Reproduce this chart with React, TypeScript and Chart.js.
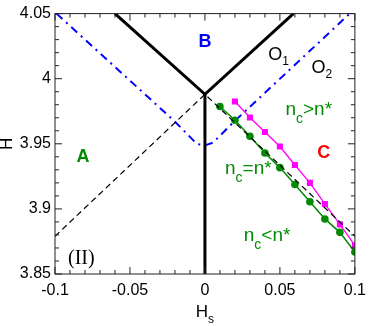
import React, { useEffect, useRef } from "react";
import { Chart, registerables } from "chart.js";

Chart.register(...registerables);

// ---- data ----
const xTickValues = [-0.1, -0.05, 0, 0.05, 0.1];
const yTickValues = [3.85, 3.9, 3.95, 4, 4.05];

const greenX = [0.01, 0.02, 0.03, 0.04, 0.05, 0.06, 0.07, 0.08, 0.09, 0.1];
const greenY = [3.9787, 3.9681, 3.9558, 3.9429, 3.9317, 3.9187, 3.9055, 3.8923, 3.882, 3.8669];

const magentaX = [0.02, 0.03, 0.04, 0.05, 0.06, 0.07, 0.08, 0.09, 0.1];
const magentaY = [3.9825, 3.9702, 3.9591, 3.9479, 3.9337, 3.92, 3.9038, 3.8881, 3.8719];

const thickVX = [-0.06, 0, 0.059];
const thickVY = [4.05, 3.988, 4.05];

const stemX = [0, 0];
const stemY = [3.988, 3.85];

const dashedX = [-0.1, 0, 0.1];
const dashedY = [3.879, 3.988, 3.879];

const blueX = [-0.099, -0.0196, -0.0054, 0, 0.0055, 0.0194, 0.0966];
const blueY = [4.05, 3.9666, 3.9499, 3.9487, 3.951, 3.967, 4.05];

const minorStep = 0.01;

// ---- text labels (data coordinates) ----
type Part = { t: string; sub?: boolean };
type Label = { x: number; y: number; parts: Part[]; kind: "region" | "o" | "n" | "roman"; color: string; align: "left" | "center" };

const GREEN = "rgb(0,139,0)";
const BLUE = "rgb(0,0,255)";
const RED = "rgb(255,0,0)";
const MAGENTA = "rgb(255,0,255)";

const labels: Label[] = [
  { x: 0.0, y: 4.024, parts: [{ t: "B" }], kind: "region", color: BLUE, align: "center" },
  { x: -0.0813, y: 3.936, parts: [{ t: "A" }], kind: "region", color: GREEN, align: "center" },
  { x: 0.0792, y: 3.939, parts: [{ t: "C" }], kind: "region", color: RED, align: "center" },
  { x: 0.0422, y: 4.014, parts: [{ t: "O" }, { t: "1", sub: true }], kind: "o", color: "#000", align: "left" },
  { x: 0.0711, y: 4.004, parts: [{ t: "O" }, { t: "2", sub: true }], kind: "o", color: "#000", align: "left" },
  { x: 0.0537, y: 3.972, parts: [{ t: "n" }, { t: "c", sub: true }, { t: ">n*" }], kind: "n", color: GREEN, align: "left" },
  { x: 0.0134, y: 3.9266, parts: [{ t: "n" }, { t: "c", sub: true }, { t: "=n*" }], kind: "n", color: GREEN, align: "left" },
  { x: 0.0259, y: 3.875, parts: [{ t: "n" }, { t: "c", sub: true }, { t: "<n*" }], kind: "n", color: GREEN, align: "left" },
  { x: -0.0913, y: 3.858, parts: [{ t: "(II)" }], kind: "roman", color: "#000", align: "left" },
];

const SANS = '"Liberation Sans", Arial, Helvetica, sans-serif';
const SERIF = '"Liberation Serif", "Times New Roman", serif';

const fontFor: Record<string, { main: string; sub: string; dy: number }> = {
  region: { main: `bold 18px ${SANS}`, sub: `bold 12px ${SANS}`, dy: 5 },
  o: { main: `18px ${SANS}`, sub: `12px ${SANS}`, dy: 5 },
  n: { main: `19px ${SANS}`, sub: `14px ${SANS}`, dy: 8 },
  roman: { main: `20px ${SERIF}`, sub: `14px ${SERIF}`, dy: 5 },
  axis: { main: `17px ${SANS}`, sub: `12px ${SANS}`, dy: 6 },
};

function drawRich(ctx: CanvasRenderingContext2D, x: number, y: number, parts: Part[], kind: string, align: "left" | "center") {
  const f = fontFor[kind];
  let total = 0;
  const widths = parts.map((p) => {
    ctx.font = p.sub ? f.sub : f.main;
    const w = ctx.measureText(p.t).width;
    total += w;
    return w;
  });
  let cx = align === "center" ? x - total / 2 : x;
  ctx.textAlign = "left";
  ctx.textBaseline = "alphabetic";
  parts.forEach((p, i) => {
    ctx.font = p.sub ? f.sub : f.main;
    ctx.fillText(p.t, cx, p.sub ? y + f.dy : y);
    cx += widths[i];
  });
}

const decorPlugin = {
  id: "decor",
  afterDraw(chart: any) {
    const { ctx, chartArea: a, scales } = chart;
    const xs = scales.x;
    const ys = scales.y;
    ctx.save();
    ctx.strokeStyle = "#222";
    ctx.lineWidth = 1;
    ctx.strokeRect(a.left, a.top, a.right - a.left, a.bottom - a.top);
    ctx.beginPath();
    const nx = Math.round((xs.max - xs.min) / minorStep);
    for (let i = 0; i <= nx; i++) {
      const v = xs.min + i * minorStep;
      const px = xs.getPixelForValue(v);
      const len = i % 5 === 0 ? 7 : 4;
      ctx.moveTo(px, a.bottom);
      ctx.lineTo(px, a.bottom - len);
      ctx.moveTo(px, a.top);
      ctx.lineTo(px, a.top + len);
    }
    const ny = Math.round((ys.max - ys.min) / minorStep);
    for (let i = 0; i <= ny; i++) {
      const v = ys.min + i * minorStep;
      const py = ys.getPixelForValue(v);
      const len = i % 5 === 0 ? 7 : 4;
      ctx.moveTo(a.left, py);
      ctx.lineTo(a.left + len, py);
      ctx.moveTo(a.right, py);
      ctx.lineTo(a.right - len, py);
    }
    ctx.stroke();

    // labels
    labels.forEach((l) => {
      ctx.fillStyle = l.color;
      drawRich(ctx, xs.getPixelForValue(l.x), ys.getPixelForValue(l.y), l.parts, l.kind, l.align);
    });

    // axis titles
    ctx.fillStyle = "#000";
    const midX = (a.left + a.right) / 2;
    drawRich(ctx, midX, a.bottom + 43, [{ t: "H" }, { t: "s", sub: true }], "axis", "center");
    ctx.save();
    ctx.translate(a.left - 47.5, (a.top + a.bottom) / 2);
    ctx.rotate(-Math.PI / 2);
    ctx.font = fontFor.axis.main;
    ctx.textAlign = "center";
    ctx.textBaseline = "middle";
    ctx.fillText("H", 0, 0);
    ctx.restore();
    ctx.restore();
  },
};

const pts = (xs: number[], ys: number[]) => xs.map((x, i) => ({ x, y: ys[i] }));
const fmt = (v: number) => String(Number(Number(v).toFixed(3)));

export default function App() {
  const ref = useRef<HTMLCanvasElement | null>(null);
  useEffect(() => {
    document.body.style.margin = "0";
    const canvas = ref.current!;
    const chart = new Chart(canvas, {
      type: "scatter",
      data: {
        datasets: [
          {
            data: pts(dashedX, dashedY),
            showLine: true,
            borderColor: "#000",
            borderWidth: 1.2,
            borderDash: [6, 4],
            pointRadius: 0,
          },
          {
            data: pts(greenX, greenY),
            showLine: true,
            borderColor: GREEN,
            borderWidth: 1.5,
            pointRadius: 3.8,
            pointBackgroundColor: GREEN,
            pointBorderColor: GREEN,
            pointBorderWidth: 0,
          },
          {
            data: pts(magentaX, magentaY),
            showLine: true,
            borderColor: MAGENTA,
            borderWidth: 1.3,
            pointStyle: "rect",
            pointRadius: 4.3,
            pointBackgroundColor: MAGENTA,
            pointBorderColor: MAGENTA,
            pointBorderWidth: 0,
          },
          {
            data: pts(thickVX, thickVY),
            showLine: true,
            borderColor: "#000",
            borderWidth: 3,
            pointRadius: 0,
          },
          {
            data: pts(stemX, stemY),
            showLine: true,
            borderColor: "#000",
            borderWidth: 3,
            pointRadius: 0,
          },
          {
            data: pts(blueX, blueY),
            showLine: true,
            borderColor: BLUE,
            borderWidth: 2,
            borderDash: [8, 5, 2, 5],
            pointRadius: 0,
            tension: 0,
          },
        ],
      },
      options: {
        animation: false,
        responsive: false,
        events: [],
        layout: { padding: { top: 7, right: 11, left: 0, bottom: 0 } },
        plugins: { legend: { display: false }, tooltip: { enabled: false } },
        scales: {
          x: {
            type: "linear",
            min: -0.1,
            max: 0.1,
            afterBuildTicks: (s: any) => {
              s.ticks = xTickValues.map((v) => ({ value: v }));
            },
            afterFit: (s: any) => {
              s.height = 52;
            },
            ticks: {
              callback: (v: any) => fmt(v),
              font: { family: SANS, size: 16 },
              color: "#000",
              padding: 7,
              maxRotation: 0,
              autoSkip: false,
            },
            grid: { display: false, drawTicks: false },
            border: { display: false },
          },
          y: {
            type: "linear",
            min: 3.85,
            max: 4.05,
            afterBuildTicks: (s: any) => {
              s.ticks = yTickValues.map((v) => ({ value: v }));
            },
            afterFit: (s: any) => {
              s.width = 55;
            },
            ticks: {
              callback: (v: any) => fmt(v),
              font: { family: SANS, size: 16 },
              color: "#000",
              padding: 4,
              autoSkip: false,
            },
            grid: { display: false, drawTicks: false },
            border: { display: false },
          },
        },
      },
      plugins: [decorPlugin],
    } as any);
    return () => chart.destroy();
  }, []);
  return (
    <div style={{ width: 373, height: 326 }}>
      <canvas ref={ref} width={373} height={326} style={{ display: "block" }} />
    </div>
  );
}
